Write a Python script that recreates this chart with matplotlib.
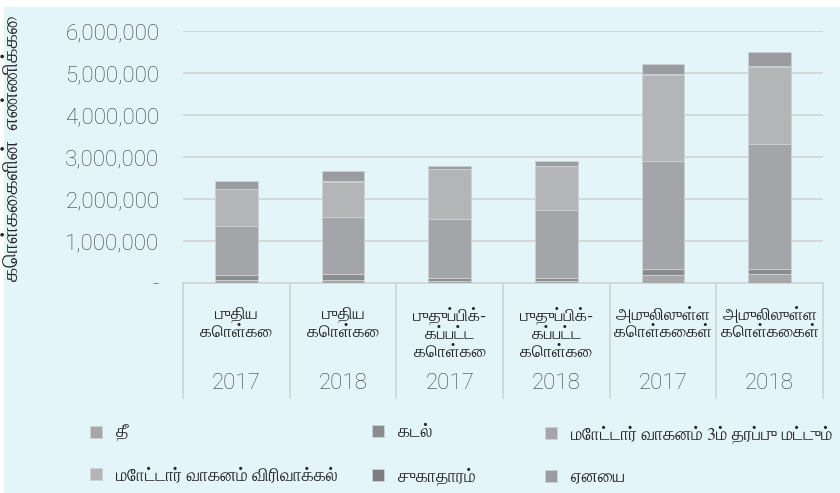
import matplotlib
matplotlib.use("Agg")
import matplotlib.pyplot as plt
from matplotlib.patches import Rectangle
from matplotlib.ticker import FuncFormatter

# policy counts by class
categories = ["புதிய\nகொள்கை", "புதிய\nகொள்கை",
              "புதுப்பிக்-\nகப்பட்ட\nகொள்கை", "புதுப்பிக்-\nகப்பட்ட\nகொள்கை",
              "அமுலிலுள்ள\nகொள்கைகள்", "அமுலிலுள்ள\nகொள்கைகள்"]
years = ["2017", "2018", "2017", "2018", "2017", "2018"]

fire = [70000, 70000, 40000, 40000, 190000, 210000]
marine = [120000, 140000, 80000, 80000, 135000, 115000]
motor_tp = [1174000, 1361000, 1397000, 1618000, 2575000, 2992000]
motor_comp = [867000, 841000, 1190000, 1048000, 2060000, 1826000]
health = [8000, 10000, 5000, 6000, 15000, 18000]
other = [190000, 233000, 67000, 108000, 239000, 346000]

series_names = ["தீ", "கடல்", "மோட்டார் வாகனம் 3ம் தரப்பு மட்டும்",
                "மோட்டார் வாகனம் விரிவாக்கல்", "சுகாதாரம்", "ஏனைய"]
series = [fire, marine, motor_tp, motor_comp, health, other]
colors = ["#a7a7a9", "#8b8c8e", "#a4a5a8", "#b4b5b7", "#7c7d80", "#9b9c9f"]

BG = "#e3f5f9"
GRID = "#d2d5d7"
TXT = "#404040"
TAMIL = ["FreeSerif", "DejaVu Sans"]
NUM = ["Roboto", "DejaVu Sans"]

fig = plt.figure(figsize=(8.4, 4.93), dpi=100, facecolor="white")
fig.patches.append(Rectangle((4 / 840, 0), 1, 1 - 7 / 493, transform=fig.transFigure,
                             facecolor=BG, edgecolor="none", zorder=-10))

ax = fig.add_axes([183 / 840, 1 - 283 / 493, 640 / 840, 252 / 493])
ax.set_facecolor(BG)

x = range(len(years))
bottom = [0] * len(years)
handles = []
for name, vals, col in zip(series_names, series, colors):
    b = ax.bar(x, vals, width=0.4, bottom=bottom, color=col,
               edgecolor="#cdd2d4", linewidth=0.6, label=name, zorder=3)
    handles.append(b)
    bottom = [bt + v for bt, v in zip(bottom, vals)]

ax.set_xlim(-0.5, len(years) - 0.5)
ax.set_ylim(0, 6000000)
ax.set_yticks(range(0, 6000001, 1000000))
ax.yaxis.set_major_formatter(FuncFormatter(lambda v, p: "-" if v == 0 else f"{int(v):,}"))
ax.grid(axis="y", color=GRID, linewidth=1.3, zorder=0)
for s in ["top", "right", "left"]:
    ax.spines[s].set_visible(False)
ax.spines["bottom"].set_color(GRID)
ax.spines["bottom"].set_linewidth(1.3)
ax.tick_params(axis="y", length=0, pad=17, labelsize=16, labelcolor=TXT)
for t in ax.get_yticklabels():
    t.set_family(NUM)
    t.set_fontweight("light")
ax.set_xticks([])

# two-level category axis
trans = ax.get_xaxis_transform()
for i in range(len(years) + 1):
    ax.plot([i - 0.5, i - 0.5], [0, -0.456], transform=trans, color=GRID,
            linewidth=1.3, clip_on=False)
for i, (cat, yr) in enumerate(zip(categories, years)):
    ax.text(i, -0.094, cat, transform=trans, ha="center", va="top",
            fontsize=12.4, color="#262626", family=TAMIL, linespacing=1.15)
    ax.text(i, -0.4, yr, transform=trans, ha="center", va="center",
            fontsize=16, color=TXT, family=NUM, fontweight="light")

fig.text(13 / 840, 1 - 148 / 493, "கொள்கைகளின்  எண்ணிக்கை", rotation=90,
         ha="center", va="center", fontsize=15, color="#262626", family=TAMIL)

# legend: three columns, two rows
col_x = [74 / 840, 356 / 840, 529 / 840]
for c in range(3):
    leg = fig.legend([handles[c], handles[c + 3]], [series_names[c], series_names[c + 3]],
                     loc="upper left", bbox_to_anchor=(col_x[c], 1 - 409 / 493),
                     frameon=False, handlelength=0.68, handleheight=0.68,
                     handletextpad=0.8, labelspacing=1.45,
                     prop={"family": TAMIL, "size": 12.8})
    for t in leg.get_texts():
        t.set_color("#262626")

fig.savefig("out.png", dpi=100, facecolor="white")
